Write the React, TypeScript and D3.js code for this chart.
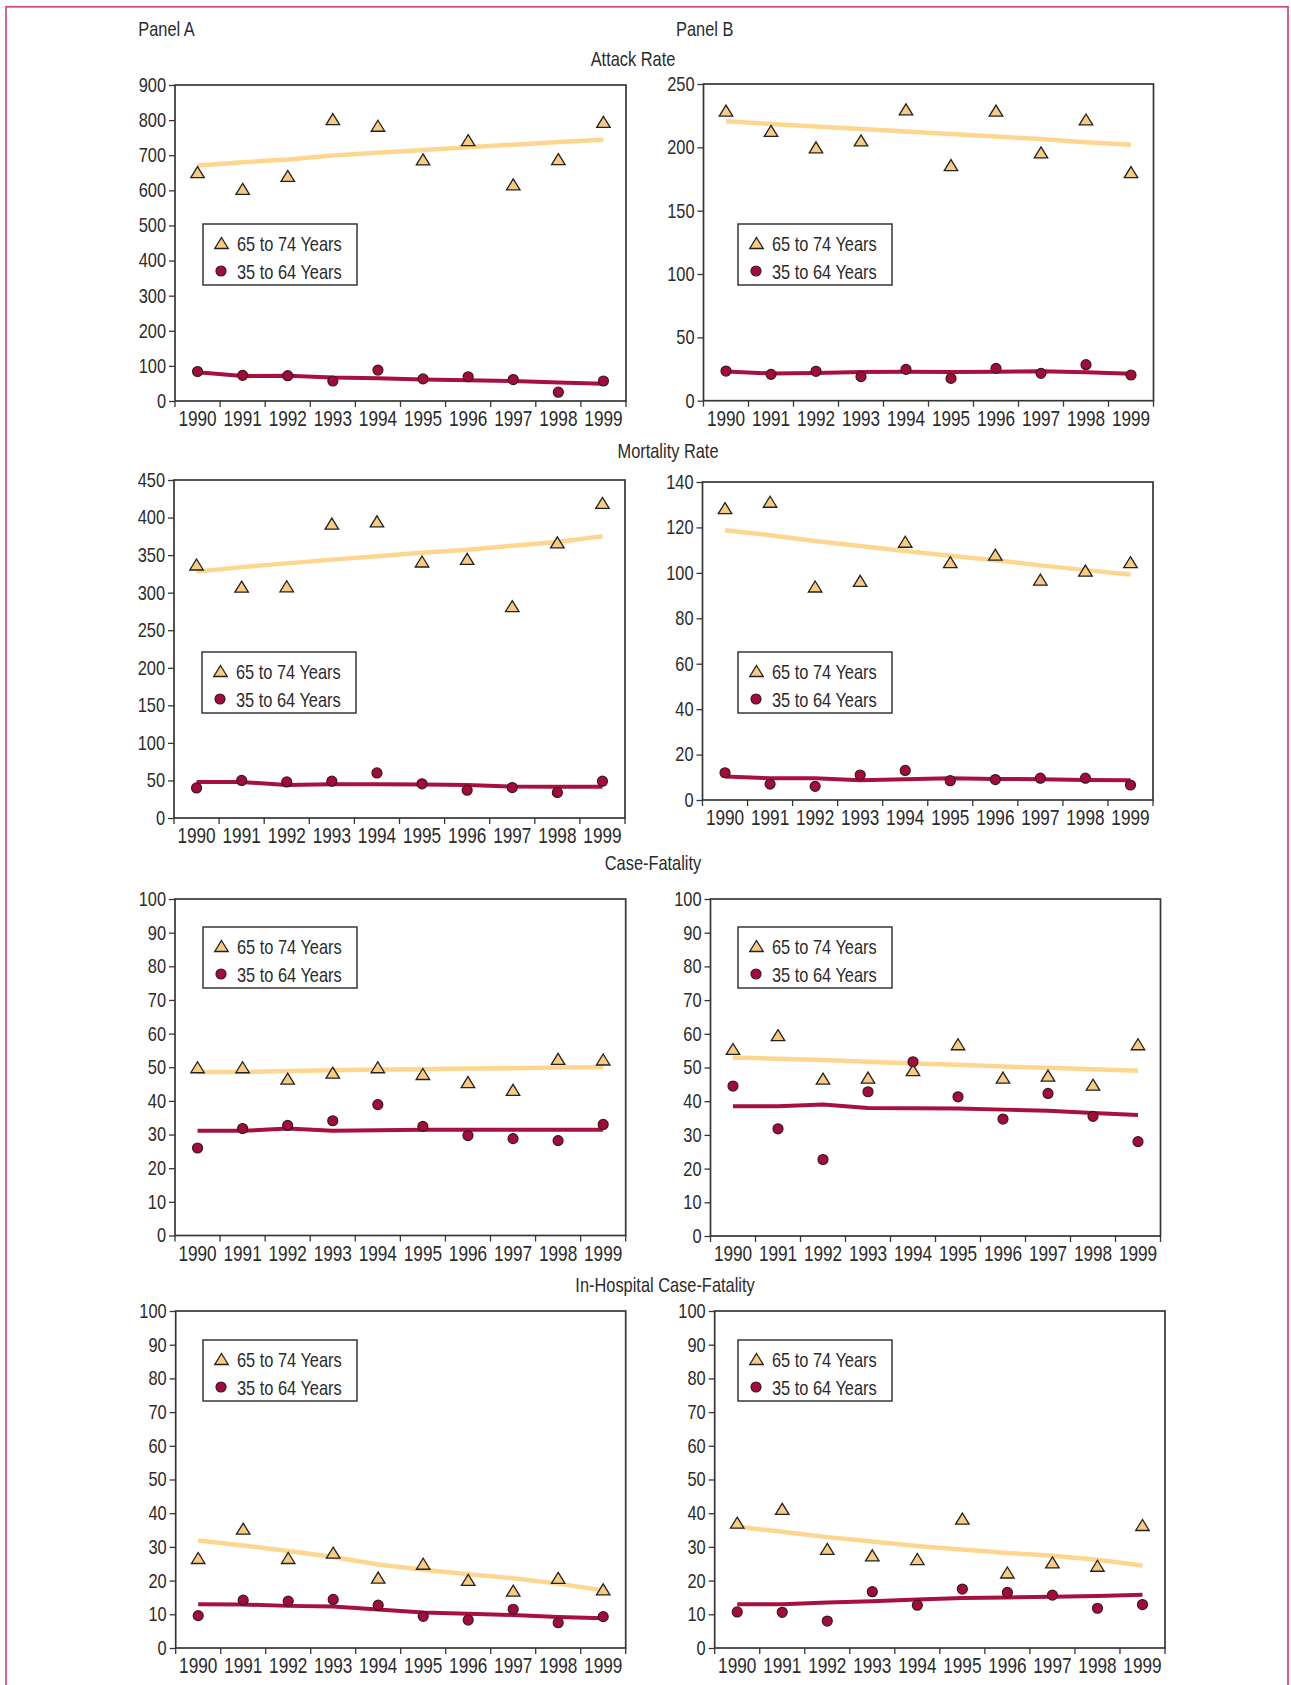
import { useEffect, useRef } from 'react';
import * as d3 from 'd3';

const years = ['1990', '1991', '1992', '1993', '1994', '1995', '1996', '1997', '1998', '1999'];
const seriesLabels = ['65 to 74 Years', '35 to 64 Years'];
const panelLabels = ['Panel A', 'Panel B'];
const sectionTitles = ['Attack Rate', 'Mortality Rate', 'Case-Fatality', 'In-Hospital Case-Fatality'];

// Attack rate
const attackA65 = [652, 604, 641, 803, 784, 688, 743, 617, 689, 795];
const attackA65Trend = [671, 680, 688, 699, 707, 715, 723, 730, 738, 744];
const attackA35 = [84, 73, 72, 57, 88, 63, 69, 61, 25, 57];
const attackA35Trend = [82, 71, 72, 67, 65, 61, 59, 57, 53, 49];
const attackB65 = [229, 213, 200, 205.5, 230, 186, 229, 196, 222, 180.5];
const attackB65Trend = [220.5, 218.5, 216.5, 214.5, 212.5, 210.5, 208.5, 206.5, 204, 202];
const attackB35 = [23.4, 20.8, 23.2, 19, 24.7, 17.6, 25.5, 21.6, 28.4, 20.3];
const attackB35Trend = [23, 21.5, 21.8, 22.6, 22.9, 22.6, 22.9, 23.2, 22.4, 21.3];

// Mortality rate
const mortA65 = [337.5, 308, 308.5, 392, 395, 341.5, 345, 282, 367, 419.5];
const mortA65Trend = [328, 334, 339, 344, 348.5, 353, 357, 362.5, 367.5, 375];
const mortA35 = [40, 50, 48, 49, 60, 45.5, 37, 40.5, 34, 49];
const mortA35Trend = [48, 48, 44, 45, 45, 44.7, 43.8, 42, 41.6, 41.6];
const mortB65 = [128.5, 131.3, 94, 96.5, 113.7, 104.7, 108, 97, 101, 104.7];
const mortB65Trend = [118.8, 116.6, 114, 111.8, 109.6, 107.5, 105.6, 103.3, 101.2, 99.3];
const mortB35 = [12, 7, 6, 11, 13, 8.5, 9, 9.6, 9.6, 6.6];
const mortB35Trend = [10.3, 9.6, 9.6, 8.7, 9.1, 9.6, 9.3, 9.1, 8.8, 8.7];

// Case-fatality
const cfA65 = [50, 50, 46.6, 48.4, 50, 48, 45.6, 43.3, 52.5, 52.3];
const cfA65Trend = [48.6, 48.6, 48.9, 49.1, 49.3, 49.4, 49.6, 49.7, 49.9, 50];
const cfA35 = [26, 31.8, 32.7, 34.1, 38.9, 32.4, 29.7, 28.8, 28.2, 33];
const cfA35Trend = [31.1, 31.1, 31.8, 31.1, 31.3, 31.4, 31.4, 31.4, 31.4, 31.4];
const cfB65 = [55.5, 59.6, 46.7, 47, 49.2, 56.9, 47, 47.6, 44.9, 56.9];
const cfB65Trend = [53, 52.6, 52.2, 51.7, 51.2, 50.8, 50.3, 49.9, 49.5, 49];
const cfB35 = [44.5, 31.8, 22.7, 42.8, 51.7, 41.3, 34.7, 42.3, 35.5, 28];
const cfB35Trend = [38.5, 38.5, 39, 38, 37.9, 37.8, 37.5, 37.2, 36.5, 35.9];

// In-hospital case-fatality
const ihA65 = [26.7, 35.4, 26.7, 28.3, 20.9, 25, 20.2, 17, 20.8, 17.4];
const ihA65Trend = [31.9, 30.4, 28.8, 27, 24.8, 23.2, 21.9, 20.7, 19.1, 17.1];
const ihA35 = [9.6, 14.2, 13.9, 14.4, 12.7, 9.4, 8.3, 11.5, 7.5, 9.3];
const ihA35Trend = [13, 12.9, 12.5, 12.3, 11.4, 10.5, 10.2, 9.8, 9.2, 8.8];
const ihB65 = [37.2, 41.3, 29.4, 27.5, 26.4, 38.4, 22.4, 25.4, 24.4, 36.5];
const ihB65Trend = [36, 34.5, 32.9, 31.6, 30.3, 29.2, 28.2, 27.4, 26.2, 24.5];
const ihB35 = [10.7, 10.6, 8, 16.7, 12.7, 17.5, 16.5, 15.7, 11.8, 12.9];
const ihB35Trend = [13, 13, 13.5, 13.9, 14.4, 14.8, 15, 15.2, 15.4, 15.8];

// No narrow font installed: Liberation Sans squeezed horizontally
const FONT = "'Liberation Sans', Arial, sans-serif";
const SQUEEZE = 0.82;
const TEXT = '#2b2b2b';
const FRAME = '#363636';
const colors = {
  older: '#F9CB80',
  olderLine: '#FDD68F',
  younger: '#A50B3A',
  youngerLine: '#A8103F',
  border: '#CF4A72',
};

// layout: frame [left, top, right, bottom], legend corner
const panels = [
  { older: attackA65, olderTrend: attackA65Trend, younger: attackA35, youngerTrend: attackA35Trend, yMax: 900, yStep: 100, frame: [175, 85, 626, 401], legend: [203, 224] },
  { older: attackB65, olderTrend: attackB65Trend, younger: attackB35, youngerTrend: attackB35Trend, yMax: 250, yStep: 50, frame: [703.5, 84, 1153.5, 400.7], legend: [738, 224] },
  { older: mortA65, olderTrend: mortA65Trend, younger: mortA35, youngerTrend: mortA35Trend, yMax: 450, yStep: 50, frame: [174, 480, 625, 818], legend: [202, 652] },
  { older: mortB65, olderTrend: mortB65Trend, younger: mortB35, youngerTrend: mortB35Trend, yMax: 140, yStep: 20, frame: [702.5, 482, 1153, 800], legend: [738, 652] },
  { older: cfA65, olderTrend: cfA65Trend, younger: cfA35, youngerTrend: cfA35Trend, yMax: 100, yStep: 10, frame: [175, 899, 625.7, 1235.5], legend: [203, 927] },
  { older: cfB65, olderTrend: cfB65Trend, younger: cfB35, youngerTrend: cfB35Trend, yMax: 100, yStep: 10, frame: [710.5, 899, 1160.5, 1236], legend: [738, 927] },
  { older: ihA65, olderTrend: ihA65Trend, younger: ihA35, youngerTrend: ihA35Trend, yMax: 100, yStep: 10, frame: [175.7, 1311, 625.7, 1648], legend: [203, 1340] },
  { older: ihB65, olderTrend: ihB65Trend, younger: ihB35, youngerTrend: ihB35Trend, yMax: 100, yStep: 10, frame: [714.7, 1311, 1165, 1648], legend: [738, 1340] },
];

const panelLabelPos = [[138.3, 36], [676, 36]];
const titlePos = [[633, 66], [668, 458], [653, 870], [665, 1292]];

const triW = 13.5;
const triH = 11;
const triangle = `M0,${-triH / 2}L${triW / 2},${triH / 2}L${-triW / 2},${triH / 2}Z`;

type Sel = d3.Selection<any, any, any, any>;

const addText = (parent: Sel, x: number, y: number, t: string, anchor = 'start') =>
  parent.append('text')
    .attr('transform', `translate(${x},${y}) scale(${SQUEEZE},1)`)
    .attr('text-anchor', anchor)
    .style('font-family', FONT).style('font-size', '20px').style('fill', TEXT)
    .text(t);

const App = () => {
  const ref = useRef<SVGSVGElement | null>(null);

  useEffect(() => {
    if (!ref.current) return;
    const svg = d3.select(ref.current);
    svg.selectAll('*').remove();

    svg.append('rect').attr('width', 1291).attr('height', 1685).attr('fill', '#fff');

    // outer border
    svg.append('rect')
      .attr('x', 6).attr('y', 6.8)
      .attr('width', 1282).attr('height', 1720)
      .attr('fill', 'none')
      .attr('stroke', colors.border)
      .attr('stroke-width', 1.7);

    panelLabels.forEach((t, i) => addText(svg, panelLabelPos[i][0], panelLabelPos[i][1], t));
    sectionTitles.forEach((t, i) => addText(svg, titlePos[i][0], titlePos[i][1], t, 'middle'));

    panels.forEach(p => {
      const [x0, y0, x1, y1] = p.frame;
      const x = d3.scaleBand<string>().domain(years).range([x0, x1]);
      const y = d3.scaleLinear().domain([0, p.yMax]).range([y1, y0]);
      const cx = (yr: string) => (x(yr) ?? 0) + x.bandwidth() / 2;
      const g = svg.append('g');

      // y axis
      const yAxis = g.append('g')
        .attr('transform', `translate(${x0},0)`)
        .call(d3.axisLeft(y).tickValues(d3.range(0, p.yMax + p.yStep / 2, p.yStep)).tickSize(6).tickPadding(3));
      yAxis.select('.domain').remove();
      yAxis.selectAll('line').attr('stroke', FRAME).attr('stroke-width', 1.3);
      yAxis.selectAll('text')
        .attr('transform', `translate(-9,0) scale(${SQUEEZE},1) translate(9,0)`)
        .style('font-family', FONT).style('font-size', '20px').style('fill', TEXT);

      // x axis: labels centred in bands, ticks on band edges
      const xAxis = g.append('g')
        .attr('transform', `translate(0,${y1})`)
        .call(d3.axisBottom(x).tickSize(0).tickPadding(10));
      xAxis.select('.domain').remove();
      xAxis.selectAll('text')
        .attr('transform', 'scale(0.8,1)')
        .style('font-family', FONT).style('font-size', '21.5px').style('fill', TEXT);
      const edges = years.map(yr => x(yr) ?? 0).concat([x1]);
      g.selectAll('.xtick')
        .data(edges)
        .enter()
        .append('line')
        .attr('x1', d => d).attr('x2', d => d)
        .attr('y1', y1).attr('y2', y1 + 6)
        .attr('stroke', FRAME).attr('stroke-width', 1.3);

      // frame
      g.append('rect')
        .attr('x', x0).attr('y', y0)
        .attr('width', x1 - x0).attr('height', y1 - y0)
        .attr('fill', 'none').attr('stroke', FRAME).attr('stroke-width', 1.7);

      // trend lines
      const line = d3.line<number>()
        .x((_, i) => cx(years[i]))
        .y(d => y(d));
      g.append('path')
        .attr('d', line(p.olderTrend))
        .attr('fill', 'none').attr('stroke', colors.olderLine).attr('stroke-width', 4.5);
      g.append('path')
        .attr('d', line(p.youngerTrend))
        .attr('fill', 'none').attr('stroke', colors.youngerLine).attr('stroke-width', 4);

      // points
      g.selectAll('.older')
        .data(p.older)
        .enter()
        .append('path')
        .attr('d', triangle)
        .attr('transform', (d, i) => `translate(${cx(years[i])},${y(d)})`)
        .attr('fill', colors.older).attr('stroke', '#222').attr('stroke-width', 1.3);
      g.selectAll('.younger')
        .data(p.younger)
        .enter()
        .append('circle')
        .attr('cx', (_, i) => cx(years[i]))
        .attr('cy', d => y(d))
        .attr('r', 5)
        .attr('fill', colors.younger).attr('stroke', '#3a1a20').attr('stroke-width', 1.2);

      // legend
      const [lx, ly] = p.legend;
      const lg = g.append('g').attr('transform', `translate(${lx},${ly})`);
      lg.append('rect')
        .attr('width', 154).attr('height', 61)
        .attr('fill', '#fff').attr('stroke', FRAME).attr('stroke-width', 1.5);
      lg.append('path')
        .attr('d', triangle)
        .attr('transform', 'translate(18.5,19)')
        .attr('fill', colors.older).attr('stroke', '#222').attr('stroke-width', 1.3);
      lg.append('circle')
        .attr('cx', 18).attr('cy', 47).attr('r', 5)
        .attr('fill', colors.younger).attr('stroke', '#3a1a20').attr('stroke-width', 1.2);
      seriesLabels.forEach((t, i) => addText(lg, 34, 26.5 + i * 28, t));
    });
  }, []);

  return (
    <svg
      ref={ref}
      width={1291}
      height={1685}
      style={{ position: 'absolute', left: 0, top: 0, display: 'block' }}
    />
  );
};

export default App;
